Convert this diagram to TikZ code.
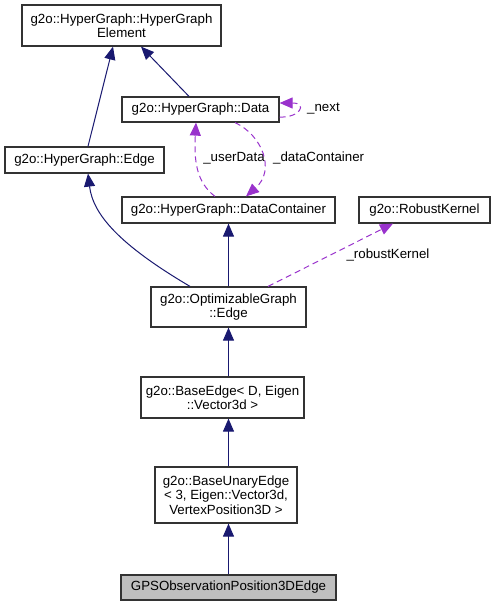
\documentclass[tikz,border=0pt]{standalone}
\usepackage{fontspec}
\setmainfont{Liberation Sans}
\usetikzlibrary{arrows.meta}
\definecolor{navyline}{RGB}{25,25,112}
\definecolor{purpline}{RGB}{153,50,204}
\definecolor{gpsfill}{RGB}{191,191,191}
\begin{document}
\begin{tikzpicture}[x=1pt,y=-1pt,
  box/.style={draw=black!80, line width=1.2pt, fill=white, align=center, inner sep=0pt,
    font=\fontsize{13.3}{14.5}\selectfont},
  lbl/.style={inner sep=0pt, font=\fontsize{13.3}{14.5}\selectfont},
  inh/.style={draw=navyline, line width=1pt, -{Triangle[length=13pt,width=11pt]}},
  usage/.style={draw=purpline, line width=1pt, dash pattern=on 6pt off 4pt, -{Triangle[length=13pt,width=11pt]}}]
\useasboundingbox (0,0) rectangle (495,605);
\node[box, minimum width=199pt, minimum height=41pt] (hge) at (121.5,25.5) {g2o::HyperGraph::HyperGraph\\Element};
\node[box, minimum width=157pt, minimum height=25pt] (data) at (200.5,109.5) {g2o::HyperGraph::Data};
\node[box, minimum width=159pt, minimum height=26pt] (hgedge) at (84.5,160) {g2o::HyperGraph::Edge};
\node[box, minimum width=213pt, minimum height=26pt] (dc) at (228.5,210) {g2o::HyperGraph::DataContainer};
\node[box, minimum width=131pt, minimum height=26pt] (rk) at (424.5,210) {g2o::RobustKernel};
\node[box, minimum width=155pt, minimum height=40pt] (og) at (228.5,307) {g2o::OptimizableGraph\\::Edge};
\node[box, minimum width=163pt, minimum height=41pt] (be) at (222.5,397.5) {g2o::BaseEdge\textless{} D, Eigen\\::Vector3d \textgreater{}};
\node[box, minimum width=142pt, minimum height=56pt] (bue) at (226,495) {g2o::BaseUnaryEdge\\\textless{} 3, Eigen::Vector3d,\\VertexPosition3D \textgreater{}};
\node[box, fill=gpsfill, minimum width=215pt, minimum height=25pt] (gps) at (228.5,587.5) {GPSObservationPosition3DEdge};

% inheritance
\draw[inh] ([xshift=3.5pt]hgedge.north) -- ([xshift=-8.5pt]hge.south);
\draw[inh] ([xshift=-11.5pt]data.north) -- ([xshift=19.5pt]hge.south);
\draw[inh] ([xshift=-38.5pt]og.north) .. controls (120,245) and (93,215) .. ([xshift=3.5pt]hgedge.south);
\draw[inh] (og.north) -- (dc.south);
\draw[inh] (be.north -| og.south) -- (og.south);
\draw[inh] (bue.north -| og.south) -- (be.south -| og.south);
\draw[inh] (gps.north) -- (bue.south -| gps.north);

% usage
\draw[usage] ([yshift=-7.5pt]data.east) .. controls (300,118) and (308,103) .. ([yshift=6.5pt]data.east);
\node[lbl, anchor=west] (lnext) at (307,109) {\_next};
\draw[usage] ([xshift=-13.5pt]dc.north) .. controls (196,182) and (194,160) .. ([xshift=-4.5pt]data.south);
\node[lbl] (luser) at (234,158) {\_userData};
\draw[usage] ([xshift=34.5pt]data.south) .. controls (262,135) and (276,170) .. ([xshift=17.5pt]dc.north);
\node[lbl, anchor=west] (ldc) at (273,158) {\_dataContainer};
\draw[usage] ([xshift=39.5pt]og.north) -- ([xshift=-31.5pt]rk.south);
\node[lbl] (lrk) at (388,255) {\_robustKernel};
\end{tikzpicture}
\end{document}
